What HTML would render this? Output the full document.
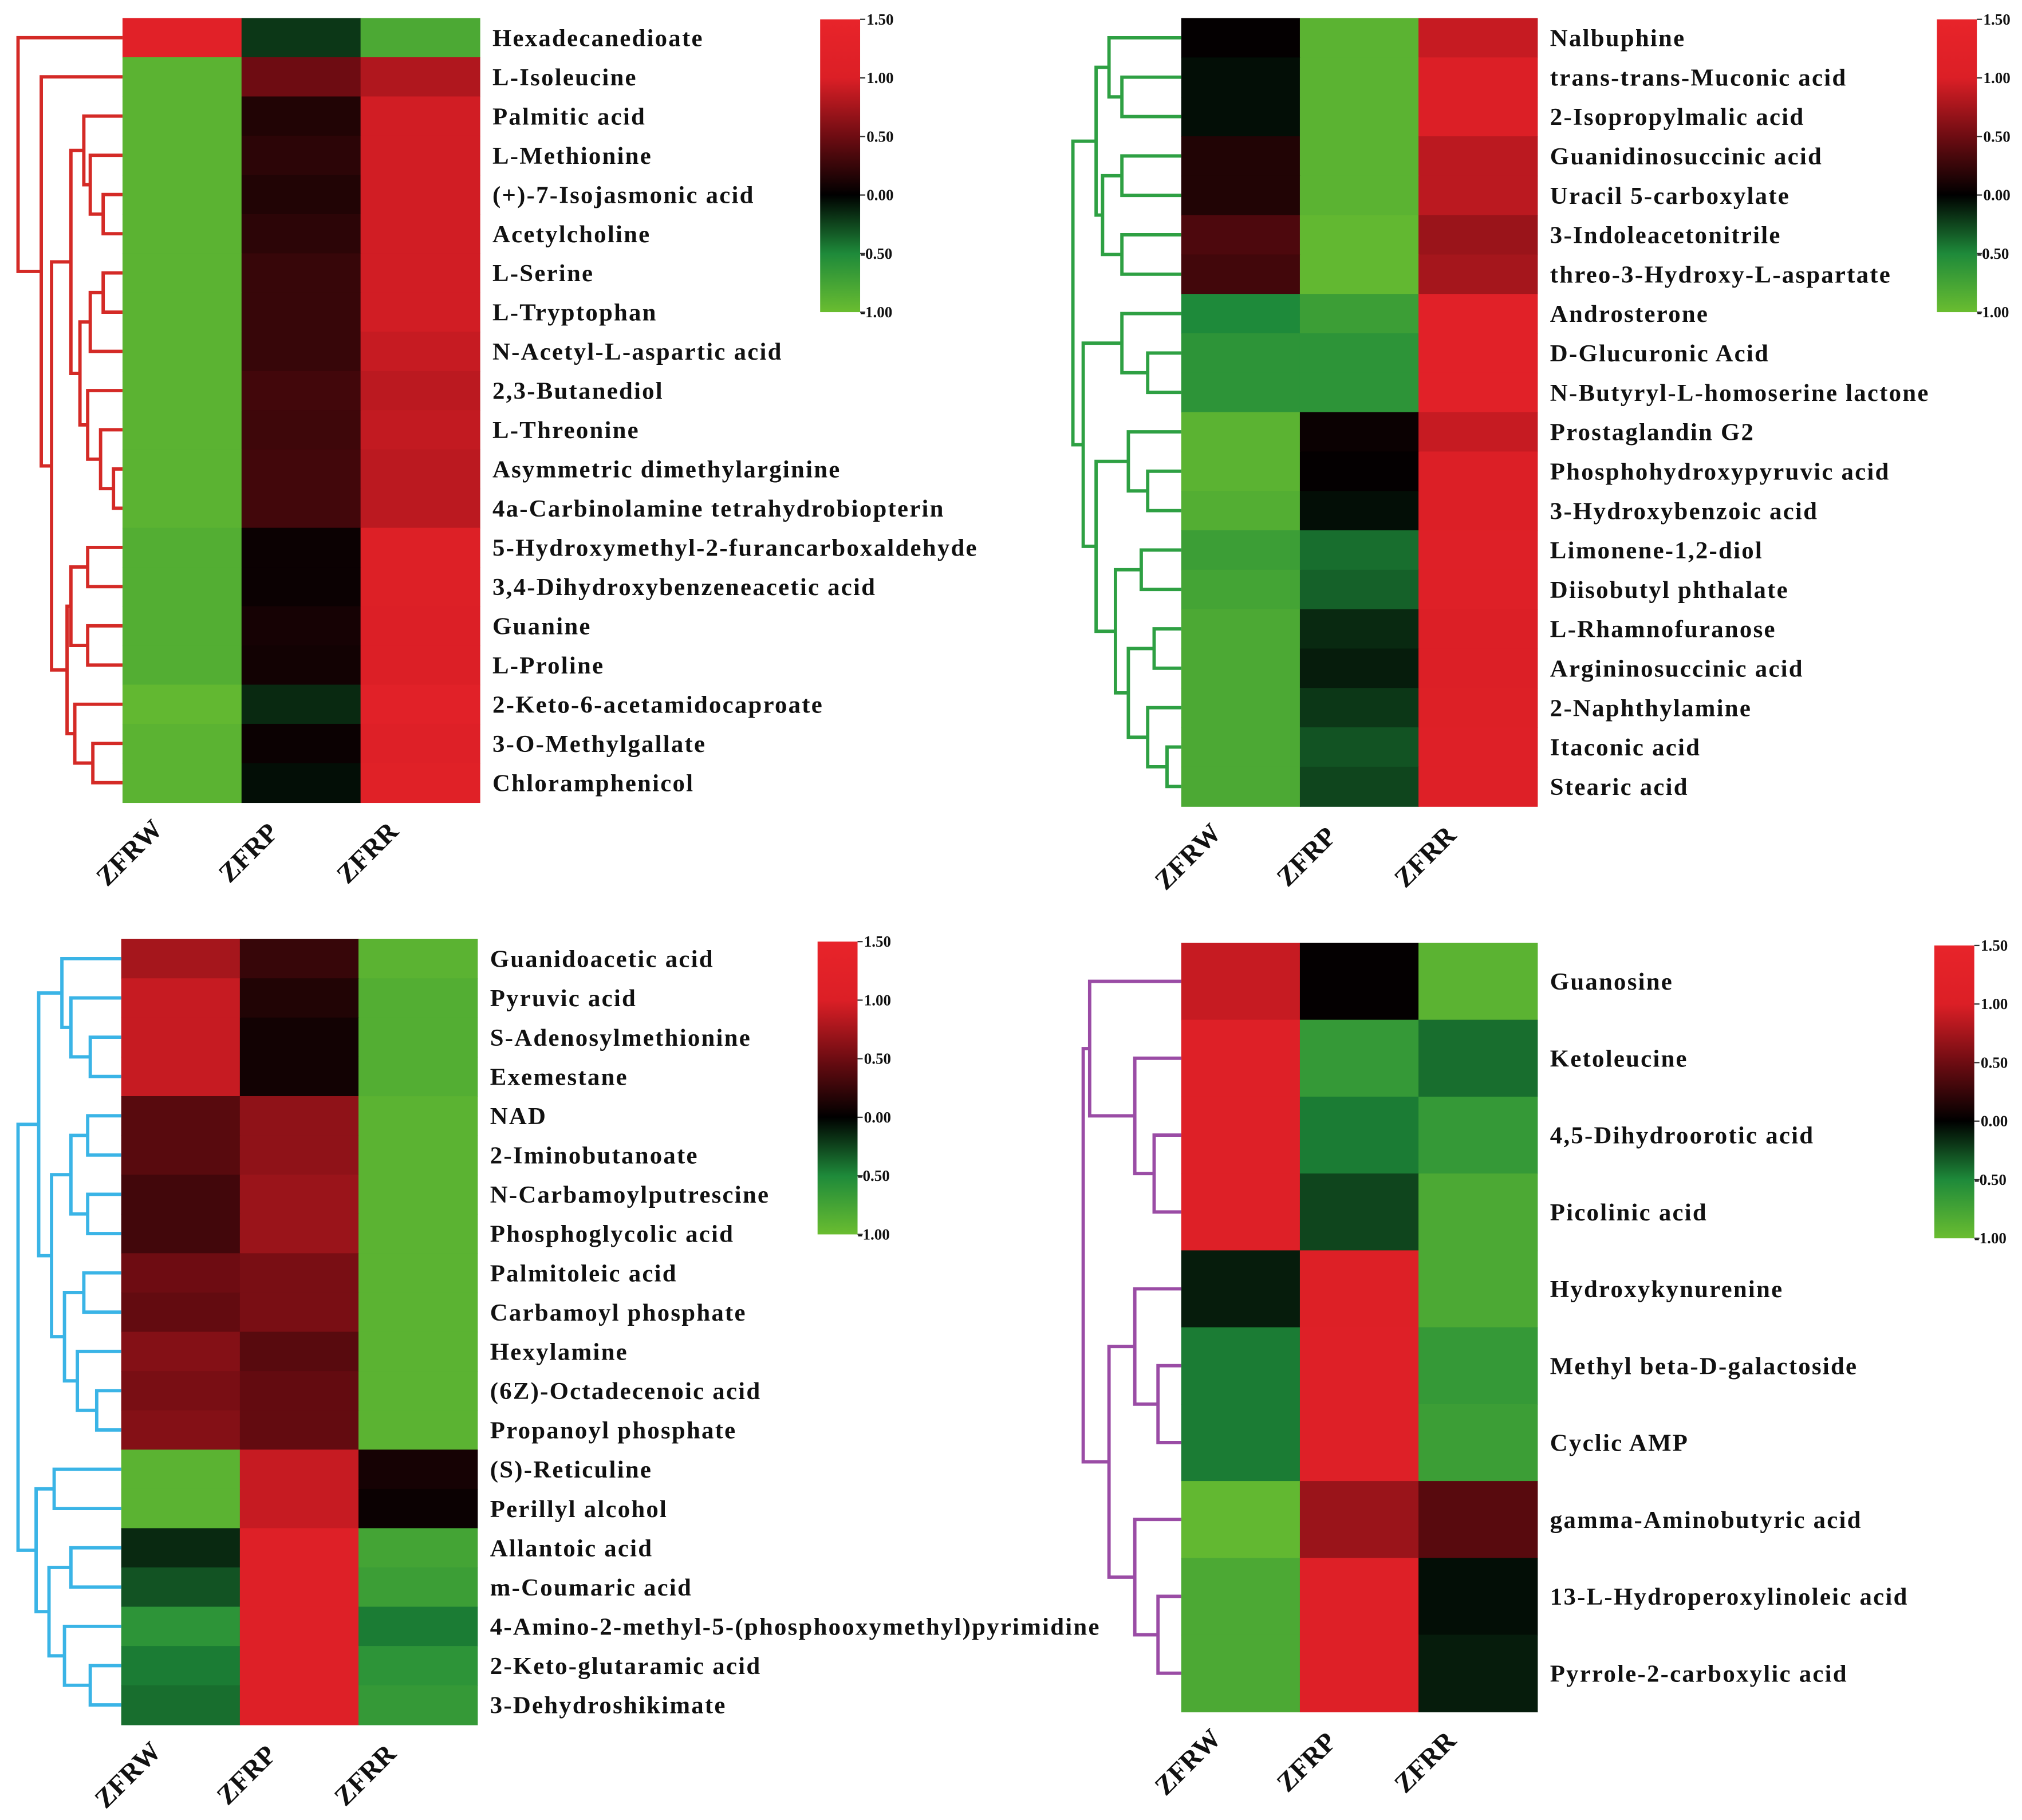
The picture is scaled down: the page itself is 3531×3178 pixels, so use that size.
<!DOCTYPE html>
<html><head><meta charset="utf-8">
<style>
html,body{margin:0;padding:0;background:#fff;}
svg{display:block;}
text{font-family:"Liberation Serif",serif;font-weight:bold;fill:#111;}
</style></head>
<body>
<svg id="chart" xmlns="http://www.w3.org/2000/svg" width="3531" height="3178" viewBox="0 0 1568 1411" preserveAspectRatio="none">
<defs>
<linearGradient id="cbgrad" x1="0" y1="0" x2="0" y2="1">
<stop offset="0" stop-color="#e8242a"/>
<stop offset="0.2" stop-color="#dc1f26"/>
<stop offset="0.4" stop-color="#6e0c12"/>
<stop offset="0.6" stop-color="#000000"/>
<stop offset="0.8" stop-color="#1e8a3a"/>
<stop offset="1" stop-color="#6abd30"/>
</linearGradient>
</defs>
</svg>
<script>
const columns = ["ZFRW","ZFRP","ZFRR"];
const cbTicks = ["1.50","1.00","0.50","0.00","-0.50","-1.00"];

const labelsA = ["Hexadecanedioate","L-Isoleucine","Palmitic acid","L-Methionine","(+)-7-Isojasmonic acid","Acetylcholine","L-Serine","L-Tryptophan","N-Acetyl-L-aspartic acid","2,3-Butanediol","L-Threonine","Asymmetric dimethylarginine","4a-Carbinolamine tetrahydrobiopterin","5-Hydroxymethyl-2-furancarboxaldehyde","3,4-Dihydroxybenzeneacetic acid","Guanine","L-Proline","2-Keto-6-acetamidocaproate","3-O-Methylgallate","Chloramphenicol"];
const valuesA = [[1.2,-0.2,-0.8],[-0.9,0.5,0.8],[-0.9,0.15,0.95],[-0.9,0.2,0.95],[-0.9,0.15,0.95],[-0.9,0.2,0.95],[-0.9,0.25,0.95],[-0.9,0.25,0.95],[-0.9,0.25,0.9],[-0.9,0.3,0.85],[-0.9,0.28,0.88],[-0.9,0.3,0.85],[-0.9,0.3,0.85],[-0.85,0.05,1.05],[-0.85,0.05,1.05],[-0.85,0.1,1.0],[-0.85,0.08,1.0],[-0.95,-0.15,1.2],[-0.9,0.05,1.1],[-0.9,-0.05,1.15]];

const labelsB = ["Nalbuphine","trans-trans-Muconic acid","2-Isopropylmalic acid","Guanidinosuccinic acid","Uracil 5-carboxylate","3-Indoleacetonitrile","threo-3-Hydroxy-L-aspartate","Androsterone","D-Glucuronic Acid","N-Butyryl-L-homoserine lactone","Prostaglandin G2","Phosphohydroxypyruvic acid","3-Hydroxybenzoic acid","Limonene-1,2-diol","Diisobutyl phthalate","L-Rhamnofuranose","Argininosuccinic acid","2-Naphthylamine","Itaconic acid","Stearic acid"];
const valuesB = [[0.02,-0.9,0.9],[-0.05,-0.9,1.0],[-0.05,-0.9,1.0],[0.15,-0.9,0.85],[0.15,-0.9,0.85],[0.35,-0.95,0.7],[0.3,-0.95,0.75],[-0.5,-0.7,1.2],[-0.6,-0.6,1.2],[-0.6,-0.6,1.2],[-0.9,0.05,0.9],[-0.9,0.02,1.0],[-0.85,-0.05,1.0],[-0.7,-0.4,1.1],[-0.75,-0.35,1.1],[-0.8,-0.15,1.0],[-0.8,-0.1,1.0],[-0.8,-0.2,1.05],[-0.8,-0.3,1.1],[-0.8,-0.25,1.1]];

const labelsC = ["Guanidoacetic acid","Pyruvic acid","S-Adenosylmethionine","Exemestane","NAD","2-Iminobutanoate","N-Carbamoylputrescine","Phosphoglycolic acid","Palmitoleic acid","Carbamoyl phosphate","Hexylamine","(6Z)-Octadecenoic acid","Propanoyl phosphate","(S)-Reticuline","Perillyl alcohol","Allantoic acid","m-Coumaric acid","4-Amino-2-methyl-5-(phosphooxymethyl)pyrimidine","2-Keto-glutaramic acid","3-Dehydroshikimate"];
const valuesC = [[0.75,0.25,-0.9],[0.9,0.15,-0.85],[0.9,0.08,-0.85],[0.9,0.08,-0.85],[0.4,0.65,-0.9],[0.4,0.65,-0.9],[0.3,0.7,-0.9],[0.3,0.7,-0.9],[0.5,0.55,-0.9],[0.45,0.55,-0.9],[0.6,0.4,-0.9],[0.55,0.45,-0.9],[0.6,0.45,-0.9],[-0.9,0.9,0.1],[-0.9,0.9,0.05],[-0.15,1.1,-0.75],[-0.3,1.1,-0.7],[-0.6,1.1,-0.45],[-0.45,1.1,-0.6],[-0.4,1.1,-0.65]];

const labelsD = ["Guanosine","Ketoleucine","4,5-Dihydroorotic acid","Picolinic acid","Hydroxykynurenine","Methyl beta-D-galactoside","Cyclic AMP","gamma-Aminobutyric acid","13-L-Hydroperoxylinoleic acid","Pyrrole-2-carboxylic acid"];
const valuesD = [[0.9,0.02,-0.9],[1.1,-0.65,-0.4],[1.1,-0.45,-0.65],[1.1,-0.25,-0.8],[-0.1,1.05,-0.8],[-0.45,1.1,-0.65],[-0.45,1.1,-0.7],[-0.95,0.7,0.4],[-0.8,1.1,-0.05],[-0.8,1.1,-0.1]];

const treeA = [14,0,[32,1,[40,[55,[65,2,[70,3,[80,4,5]]],[62,[70,[80,6,7],8],[68,9,[78,10,[88,11,12]]]]],[52,[55,[68,13,14],[68,15,16]],[58,17,[72,18,19]]]]]];
const treeB = [832,[850,[860,0,[870,1,2]],[855,[870,3,4],[870,5,6]]],[840,[870,7,[890,8,9]],[850,[875,10,[890,11,12]],[865,[885,13,14],[875,[895,15,16],[890,17,[905,18,19]]]]]]];
const treeC = [14,[30,[48,0,[55,1,[70,2,3]]],[40,[55,[68,4,5],[68,6,7]],[50,[65,8,9],[60,10,[75,11,12]]]]],[28,[42,13,14],[38,[55,15,16],[50,17,[70,18,19]]]]];
const treeD = [840,[845,0,[880,1,[895,2,3]]],[860,[880,4,[898,5,6]],[880,7,[898,8,9]]]];

const panels = [
 {id:"a",x0:95,y0:14,cw:92.3,rh:30.4,labels:labelsA,vals:valuesA,tree:treeA,color:"#d42a26",cb:{x:636,y:15,h:227}},
 {id:"b",x0:916,y0:14,cw:92,rh:30.55,labels:labelsB,vals:valuesB,tree:treeB,color:"#2ea043",cb:{x:1502,y:15,h:227}},
 {id:"c",x0:94,y0:728,cw:92,rh:30.45,labels:labelsC,vals:valuesC,tree:treeC,color:"#3ab4e6",cb:{x:634,y:730,h:227}},
 {id:"d",x0:916,y0:731,cw:92,rh:59.6,labels:labelsD,vals:valuesD,tree:treeD,color:"#9a4ca5",cb:{x:1500,y:733,h:227}}
];

const NS="http://www.w3.org/2000/svg";
const svg=document.getElementById('chart');
function mk(tag,attrs,parent){const e=document.createElementNS(NS,tag);for(const k in attrs)e.setAttribute(k,attrs[k]);(parent||svg).appendChild(e);return e;}

const cstops=[[-1,[106,189,48]],[-0.5,[30,138,58]],[0,[0,0,0]],[0.5,[110,12,18]],[1,[220,31,38]],[1.5,[232,36,42]]];
function colorScale(v){
 v=Math.max(-1,Math.min(1.5,v));
 for(let i=0;i<cstops.length-1;i++){const a=cstops[i],b=cstops[i+1];
  if(v<=b[0]){const t=(v-a[0])/(b[0]-a[0]);const c=a[1].map((x,j)=>Math.round(x+(b[1][j]-x)*t));return `rgb(${c[0]},${c[1]},${c[2]})`;}}
 return 'rgb(232,36,42)';
}

panels.forEach(p=>{
 const g=mk('g',{});
 
 
 const yOf=i=>p.y0+p.rh*(i+0.5);
 p.vals.forEach((row,i)=>{
  row.forEach((v,j)=>{
   const r=mk('rect',{x:p.x0+p.cw*j,y:p.y0+p.rh*i,width:p.cw+0.5,height:p.rh+0.5,fill:colorScale(v)},g);
   
   
  });
  const t=mk('text',{x:p.x0+p.cw*3+10,y:yOf(i)+6.5,'font-size':19,'letter-spacing':1},g);
  t.textContent=p.labels[i];
  
  
 });
 const bottom=p.y0+p.rh*p.vals.length;
 columns.forEach((c,j)=>{
  const cx=p.x0+p.cw*(j+0.5)-36,cy=bottom+44;
  const t=mk('text',{x:cx,y:cy,'font-size':21,'text-anchor':'middle',transform:`rotate(-45 ${cx} ${cy})`},g);
  t.textContent=c;
  
  
 });
 const dg=mk('g',{stroke:p.color,'stroke-width':2.6,fill:'none'},g);
 
 
 function draw(n){
  if(typeof n==='number')return {x:p.x0,y:yOf(n)};
  const x=n[0],a=draw(n[1]),b=draw(n[2]);
  const pa=mk('path',{d:`M${a.x},${a.y}H${x}V${b.y}H${b.x}`},dg);
  
  
  return {x:x,y:(a.y+b.y)/2};
 }
 draw(p.tree);
 const cb=mk('rect',{x:p.cb.x,y:p.cb.y,width:31,height:p.cb.h,fill:'url(#cbgrad)'},g);
 
 
 cbTicks.forEach((tk,k)=>{
  const y=p.cb.y+p.cb.h*k/(cbTicks.length-1);
  mk('line',{x1:p.cb.x+31,x2:p.cb.x+35,y1:y,y2:y,stroke:'#333','stroke-width':1},g);
  const t=mk('text',{x:tk.startsWith('-')?p.cb.x+31:p.cb.x+36,y:y+4,'font-size':12},g);
  t.textContent=tk;
  
  
 });
});
</script>
</body></html>
